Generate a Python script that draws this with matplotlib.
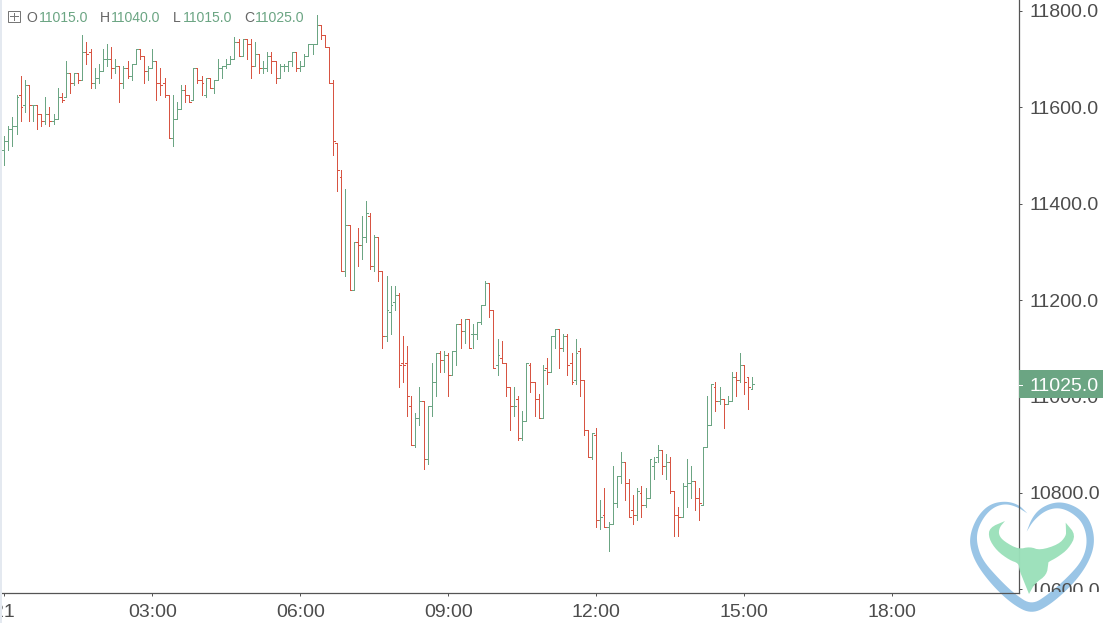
import matplotlib
matplotlib.use("Agg")
import matplotlib.pyplot as plt
import numpy as np
from matplotlib.patches import Polygon, Rectangle
from matplotlib.lines import Line2D
from matplotlib.transforms import Affine2D, Bbox

plt.rcParams['font.family'] = ['Liberation Sans', 'DejaVu Sans']

# 5-minute OHLC bars, starting at 00:00
opens = [
 11510,11530,11555,11560,11625,11605,11645,11605,11605,11585,
 11570,11585,11570,11575,11620,11620,11670,11650,11670,11655,
 11715,11715,11650,11660,11675,11700,11700,11680,11685,11650,
 11680,11665,11690,11720,11705,11675,11680,11695,11650,11650,
 11625,11535,11575,11595,11635,11625,11615,11680,11655,11625,
 11660,11640,11655,11680,11685,11690,11700,11735,11705,11740,
 11730,11685,11710,11680,11680,11705,11695,11660,11685,11685,
 11695,11715,11680,11685,11705,11730,11730,11770,11750,11725,
 11650,11525,11455,11260,11355,11220,11320,11315,11330,11375,
 11270,11330,11260,11125,11175,11195,11210,11070,11070,10980,
 10900,10955,10990,10870,10980,11030,11090,11075,11085,11045,
 11095,11150,11135,11160,11130,11130,11155,11190,11235,11180,
 11065,11080,11070,11020,10980,10995,10915,10950,11065,11030,
 10995,10955,11060,11050,11125,11140,11100,11125,11070,11035,
 11095,11035,10930,10875,10920,10745,10755,10730,10735,10780,
 10835,10865,10820,10765,10755,10800,10775,10790,10855,10875,
 10890,10855,10865,10805,10755,10750,10815,10820,10825,10790,
 10775,10895,10940,11020,10990,10995,10985,10990,11040,11035,
 11065,11040,11015]
highs = [
 11540,11560,11580,11625,11665,11655,11645,11605,11605,11585,
 11620,11600,11585,11640,11630,11695,11670,11670,11670,11750,
 11735,11720,11680,11690,11720,11730,11725,11700,11685,11685,
 11695,11690,11720,11720,11705,11685,11720,11695,11680,11660,
 11625,11625,11610,11645,11645,11625,11680,11680,11665,11660,
 11660,11655,11700,11685,11700,11705,11745,11740,11740,11740,
 11740,11735,11710,11695,11715,11715,11695,11690,11690,11695,
 11715,11715,11695,11710,11730,11730,11790,11770,11750,11725,
 11655,11525,11470,11430,11355,11320,11350,11375,11405,11380,
 11335,11330,11260,11250,11230,11230,11215,11125,11105,11000,
 10965,11020,10990,10980,11070,11090,11095,11095,11090,11095,
 11150,11160,11160,11160,11150,11155,11190,11240,11235,11180,
 11120,11115,11070,11020,11020,11000,10970,11070,11070,11030,
 11005,11065,11080,11125,11140,11140,11130,11130,11090,11120,
 11100,11035,10930,10925,10935,10785,10810,10740,10855,10835,
 10885,10865,10830,10795,10810,10815,10810,10870,10875,10900,
 10890,10880,10875,10805,10770,10820,10870,10855,10825,10810,
 10895,11000,11025,11030,11020,10995,11000,11050,11050,11090,
 11065,11040,11040]
lows = [
 11480,11510,11520,11545,11570,11590,11570,11570,11555,11560,
 11565,11560,11565,11575,11610,11620,11630,11645,11650,11655,
 11690,11640,11640,11650,11675,11685,11660,11670,11610,11640,
 11660,11655,11690,11700,11650,11655,11680,11615,11625,11620,
 11535,11520,11575,11595,11610,11610,11615,11650,11625,11620,
 11640,11630,11655,11660,11680,11690,11700,11705,11705,11700,
 11660,11685,11670,11670,11675,11670,11650,11660,11675,11675,
 11685,11675,11675,11685,11705,11710,11730,11740,11725,11650,
 11500,11425,11260,11250,11220,11220,11270,11285,11320,11265,
 11260,11240,11100,11115,11130,11180,11020,11030,10960,10900,
 10895,10940,10850,10860,10960,11000,11050,11050,11000,11045,
 11065,11100,11110,11100,11100,11120,11150,11190,11165,11060,
 11045,11070,11000,10930,10960,10910,10910,10950,11010,10960,
 10955,10955,11025,11050,11100,11060,11095,11045,11025,11025,
 11000,10920,10875,10870,10730,10725,10730,10680,10735,10770,
 10820,10785,10750,10735,10745,10750,10770,10790,10830,10865,
 10840,10830,10800,10710,10710,10750,10770,10790,10765,10745,
 10775,10895,10940,10970,10985,10935,10985,10990,11000,11030,
 11005,10975,11015]
closes = [
 11530,11555,11560,11620,11600,11645,11605,11605,11585,11570,
 11585,11570,11575,11620,11615,11670,11650,11670,11655,11715,
 11710,11650,11660,11675,11700,11700,11680,11685,11650,11680,
 11665,11690,11720,11705,11675,11680,11695,11650,11645,11625,
 11535,11575,11595,11635,11625,11610,11680,11655,11650,11660,
 11640,11655,11680,11685,11690,11700,11735,11705,11740,11730,
 11685,11710,11680,11680,11705,11695,11660,11685,11685,11695,
 11715,11680,11685,11705,11730,11730,11770,11750,11725,11650,
 11530,11470,11260,11355,11220,11320,11315,11330,11380,11270,
 11330,11260,11125,11180,11190,11210,11065,11065,11000,10900,
 10955,10990,10870,10980,11030,11090,11075,11085,11045,11095,
 11150,11135,11160,11100,11130,11155,11190,11235,11180,11060,
 11085,11070,11020,10980,10980,10915,10950,11070,11030,10995,
 10955,11055,11050,11125,11140,11100,11125,11065,11030,11090,
 11035,10930,10875,10925,10745,10750,10730,10735,10780,10835,
 10865,10820,10750,10755,10805,10775,10790,10870,10865,10890,
 10855,10865,10805,10755,10750,10815,10820,10825,10790,10780,
 10895,10940,11025,10990,10995,10985,10990,11040,11035,11065,
 11030,11020,11025]

price_ticks = [10600, 10800, 11000, 11200, 11400, 11600, 11800]
time_ticks = [0, 180, 360, 540, 720, 900, 1080]
time_labels = ['21', '03:00', '06:00', '09:00', '12:00', '15:00', '18:00']
legend_items = [('O', '11015.0'), ('H', '11040.0'), ('L', '11015.0'), ('C', '11025.0')]
last_label = '11025.0'
BAR_MINUTES = 5

GREEN = '#6ba583'
RED = '#d75442'
AXIS = '#555555'
TEXT = '#4c4c4c'
W, H = 1103, 623

fig = plt.figure(figsize=(W / 100, H / 100), dpi=100, facecolor='white')
px = Affine2D().scale(1, -1).translate(0, H)  # reference pixel coordinates
ax = fig.add_axes([0, (H - 593.3) / H, 1018.5 / W, 593.3 / H], zorder=1)
ax.patch.set_visible(False)

o, h, l, c = map(np.array, (opens, highs, lows, closes))
t = np.arange(len(o)) * BAR_MINUTES
cols = [GREEN if ci >= oi else RED for oi, ci in zip(o, c)]

ax.vlines(t, l, h, colors=cols, linewidth=0.72, antialiased=False)
ax.hlines(o, t - 2.2, t, colors=cols, linewidth=0.72, antialiased=False)
ax.hlines(c, t, t + 2.2, colors=cols, linewidth=0.72, antialiased=False)

ax.set_xlim(-5.1, 1233.6)
ax.set_ylim(10592.1, 11821.8)
ax.yaxis.tick_right()
ax.set_yticks(price_ticks, [f'{p:.1f}' for p in price_ticks])
ax.set_xticks(time_ticks, time_labels)
ax.tick_params(axis='both', length=2.2, width=0.72, color=AXIS, labelcolor=TEXT, labelsize=14)
ax.tick_params(axis='y', pad=6)
ax.tick_params(axis='x', pad=5.5)
for s in ('top', 'left'):
    ax.spines[s].set_visible(False)
for s in ('right', 'bottom'):
    ax.spines[s].set_color(AXIS)
    ax.spines[s].set_linewidth(0.9)

# lowest price label is cut off in the reference
lab = ax.get_yticklabels()[0]
lab.set_clip_on(True)
lab.set_clip_box(Bbox([[1020, H - 592], [W, H - 560]]))

# last price marker
fig.add_artist(Rectangle((1018.8, 370), W - 1018.8, 28.3, transform=px, facecolor=GREEN, edgecolor='none', zorder=5))
fig.add_artist(Line2D([1018.8, 1022], [384.5, 384.5], transform=px, color='white', lw=0.72, zorder=6))
fig.text(1029.5, 384.5, last_label, transform=px, color='white', fontsize=14, va='center_baseline', ha='left', zorder=6)

# OHLC legend
fig.add_artist(Rectangle((7.5, 10.5), 12, 11, transform=px, facecolor='white', edgecolor='#777777', lw=0.72, zorder=5))
fig.add_artist(Line2D([9.5, 17.5], [16, 16], transform=px, color='#777777', lw=0.72, zorder=6))
fig.add_artist(Line2D([13.5, 13.5], [12.5, 19.5], transform=px, color='#777777', lw=0.72, zorder=6))
for (name, val), xn, xv in zip(legend_items, (26.5, 100, 173, 244), (39, 111, 183, 255)):
    fig.text(xn, 16.5, name, transform=px, color='#666666', fontsize=10.1, va='center_baseline', zorder=6)
    fig.text(xv, 16.5, val, transform=px, color=GREEN, fontsize=10.1, va='center_baseline', zorder=6)

# pale band on the left edge
fig.add_artist(Rectangle((0, 0), 1.6, H, transform=px, facecolor='#e4e9f0', edgecolor='none', zorder=7))

# watermark: heart behind the axes, bull head over it
def zoomed(pts):
    return [(950 + x / 3, 360 + y / 3) for x, y in pts]

def smooth(pts, sharp, rounds=3):
    """Corner-cutting that leaves the listed tips sharp."""
    pts = [(np.array(p, float), i in sharp) for i, p in enumerate(pts)]
    for _ in range(rounds):
        out = []
        n = len(pts)
        for i in range(n):
            p, s = pts[i]
            q, s2 = pts[(i + 1) % n]
            if s:
                out.append((p, True))
            out.append((p * 0.75 + q * 0.25, False))
            out.append((p * 0.25 + q * 0.75, False))
        pts = out
    return [tuple(p) for p, _ in pts]

heart = [(232,460),(205,433),(165,423),(120,432),(85,465),(62,515),(59,560),(80,615),(130,680),(190,735),
         (245,762),(300,735),(370,672),(415,610),(435,550),(425,490),(395,450),(350,428),(310,427),(270,445),
         (245,475),(230,515),(250,482),(285,452),(325,442),(365,457),(400,490),(413,545),(398,600),(355,650),
         (295,703),(245,735),(195,703),(145,655),(97,600),(80,550),(82,510),(102,470),(130,442),(165,431),(200,440)]
bull = [(165,483),(118,503),(116,535),(140,572),(178,600),(206,610),(208,630),(220,660),(237,702),(255,670),
        (290,645),(295,610),(295,606),(322,592),(356,566),(378,525),(347,488),(348,510),(348,528),(326,553),
        (270,571),(240,560),(205,568),(162,544),(146,525),(148,503)]
fig.add_artist(Polygon(zoomed(smooth(heart, {0, 21})), closed=True, transform=px,
                       facecolor='#9ac5e6', edgecolor='none', zorder=-1))
fig.add_artist(Polygon(zoomed(smooth(bull, {0, 8, 16}, rounds=2)), closed=True, transform=px,
                       facecolor='#9be0ba', edgecolor='none', alpha=0.97, zorder=8))

fig.savefig('out.png', dpi=100, facecolor='white')
